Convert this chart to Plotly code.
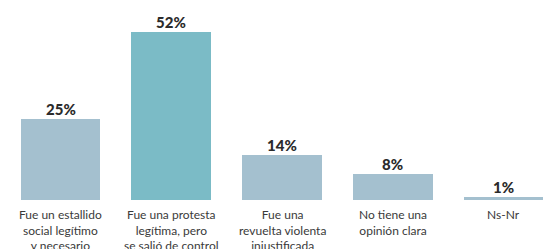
import plotly.graph_objects as go

categories = [
    "Fue un estallido<br>social legítimo<br>y necesario",
    "Fue una protesta<br>legítima, pero<br>se salió de control",
    "Fue una<br>revuelta violenta<br>injustificada",
    "No tiene una<br>opinión clara",
    "Ns-Nr",
]
values = [25, 52, 14, 8, 1]
value_labels = ["25%", "52%", "14%", "8%", "1%"]
colors = ["#a4c0cf", "#7bbbc6", "#a4c0cf", "#a4c0cf", "#a4c0cf"]

x = list(range(len(values)))

fig = go.Figure()
fig.add_trace(go.Bar(
    x=x, y=values,
    marker=dict(color=colors, line=dict(width=0)),
    width=0.72,
    hoverinfo="skip",
))

for i, (v, t) in enumerate(zip(values, value_labels)):
    fig.add_annotation(
        x=i, y=v, xref="x", yref="y",
        text=t, showarrow=False,
        yanchor="bottom", xanchor="center",
        yshift=-1,
        font=dict(family="Lato", size=15, color="#2b2b2b", weight=900),
    )

for i, c in enumerate(categories):
    fig.add_annotation(
        x=i, y=0, xref="x", yref="paper",
        text=c, showarrow=False,
        yanchor="top", xanchor="center",
        yshift=-5,
        font=dict(family="Lato", size=12, color="#3a3a3a"),
        align="center",
    )

fig.update_layout(
    width=546, height=241, autosize=False,
    margin=dict(l=0, r=0, t=5, b=49),
    paper_bgcolor="white", plot_bgcolor="white",
    showlegend=False,
    xaxis=dict(range=[-0.474, 4.456], showticklabels=False, showgrid=False,
               zeroline=False, showline=False, ticks=""),
    yaxis=dict(range=[0, 58], visible=False, showgrid=False, zeroline=False),
    bargap=0,
)

fig.write_html("out.html")
